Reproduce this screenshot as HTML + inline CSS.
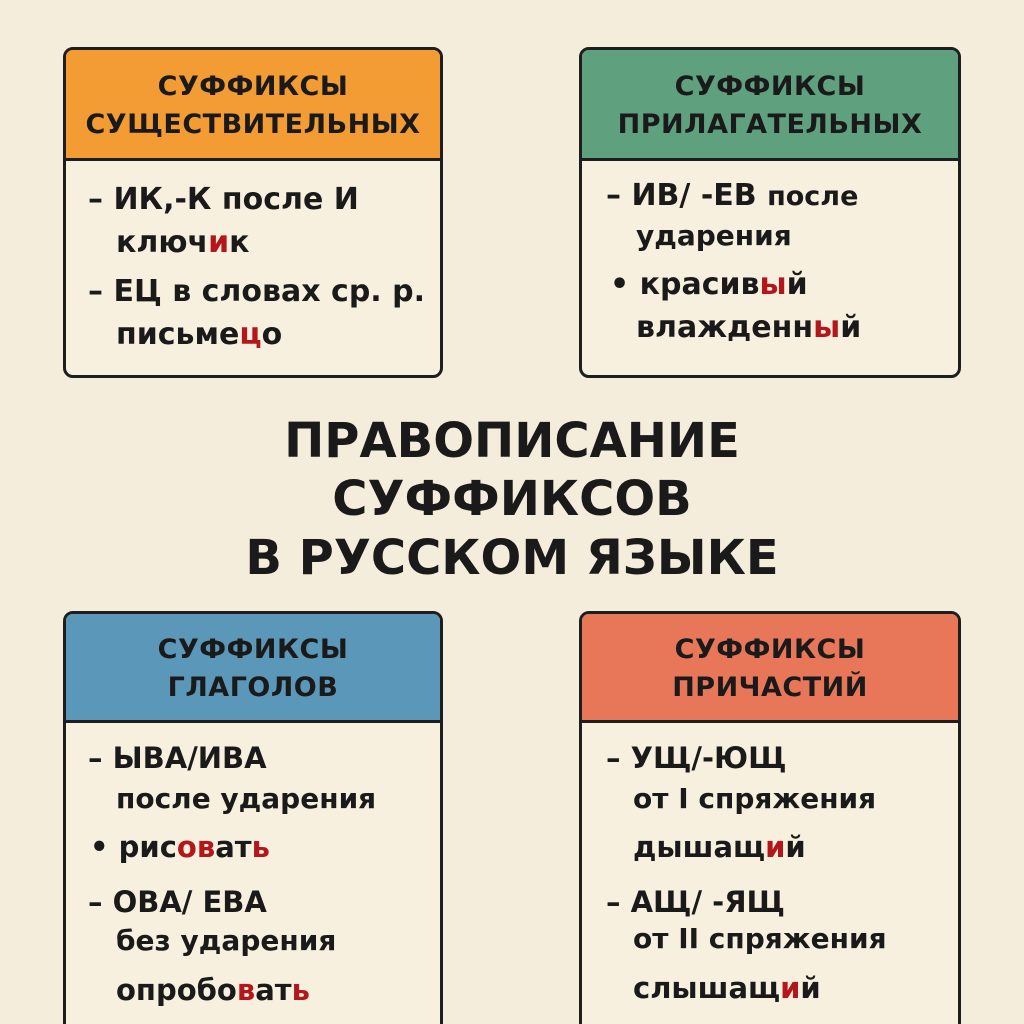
<!DOCTYPE html>
<html style="width:1024px;height:1024px;overflow:hidden"><head><meta charset="utf-8"><style>
body{margin:0;width:1024px;height:1024px;background:#f5eddb;position:relative;overflow:hidden;font-family:"DejaVu Sans","Liberation Sans",sans-serif;color:#1a1a1a}
.box{position:absolute;border:3px solid #1e1e1e;border-radius:10px;background:#f8f0de;overflow:hidden;box-sizing:border-box}
.hd{position:absolute;left:0;right:0;top:0;border-bottom:3px solid #1e1e1e;text-align:center;font-weight:bold;font-size:27px;line-height:38px;letter-spacing:0.5px;box-sizing:border-box}
.t{position:absolute;white-space:nowrap;font-weight:bold;line-height:1}
.r{color:#b3161b}
.title{position:absolute;left:0;width:1024px;text-align:center;font-weight:bold;font-size:48px;line-height:1}
</style></head><body>
<div class="box" style="left:63px;top:47px;width:380px;height:331px"><div class="hd" style="background:#f39c34;height:111px;padding-top:18px">СУФФИКСЫ<br>СУЩЕСТВИТЕЛЬНЫХ</div></div>
<div class="box" style="left:579px;top:47px;width:382px;height:331px"><div class="hd" style="background:#5fa07f;height:111px;padding-top:18px">СУФФИКСЫ<br>ПРИЛАГАТЕЛЬНЫХ</div></div>
<div class="box" style="left:63px;top:611px;width:380px;height:440px"><div class="hd" style="background:#5b97b8;height:109px;padding-top:17px">СУФФИКСЫ<br>ГЛАГОЛОВ</div></div>
<div class="box" style="left:579px;top:611px;width:382px;height:440px"><div class="hd" style="background:#e8775a;height:109px;padding-top:17px">СУФФИКСЫ<br>ПРИЧАСТИЙ</div></div>

<div class="t" style="left:88px;top:185px;font-size:30px">– ИК,-К после И</div>
<div class="t" style="left:116px;top:228px;font-size:30px">ключ<span class="r">и</span>к</div>
<div class="t" style="left:88px;top:277px;font-size:30px">– ЕЦ в словах ср. р.</div>
<div class="t" style="left:116px;top:320px;font-size:30px">письме<span class="r">ц</span>о</div>

<div class="t" style="left:606px;top:181px;font-size:30px">– ИВ/ -ЕВ <span style="font-size:27px">после</span></div>
<div class="t" style="left:636px;top:222px;font-size:28px">ударения</div>
<div class="t" style="left:610px;top:270px;font-size:30px">• красив<span class="r">ы</span>й</div>
<div class="t" style="left:636px;top:313px;font-size:30px">влажденн<span class="r">ы</span>й</div>

<div class="title" style="top:417px">ПРАВОПИСАНИЕ</div>
<div class="title" style="top:475px">СУФФИКСОВ</div>
<div class="title" style="top:534px">В РУССКОМ ЯЗЫКЕ</div>

<div class="t" style="left:88px;top:744px;font-size:29px">– ЫВА/ИВА</div>
<div class="t" style="left:116px;top:785px;font-size:28px">после ударения</div>
<div class="t" style="left:90px;top:833px;font-size:29px">• рис<span class="r">ов</span>ат<span class="r">ь</span></div>
<div class="t" style="left:88px;top:888px;font-size:29px">– ОВА/ ЕВА</div>
<div class="t" style="left:116px;top:927px;font-size:28px">без ударения</div>
<div class="t" style="left:116px;top:976px;font-size:29px">опробо<span class="r">в</span>ат<span class="r">ь</span></div>

<div class="t" style="left:606px;top:744px;font-size:29px">– УЩ/-ЮЩ</div>
<div class="t" style="left:633px;top:785px;font-size:28px">от I спряжения</div>
<div class="t" style="left:633px;top:833px;font-size:29px">дышащ<span class="r">и</span>й</div>
<div class="t" style="left:606px;top:888px;font-size:29px">– АЩ/ -ЯЩ</div>
<div class="t" style="left:633px;top:925px;font-size:28px">от II спряжения</div>
<div class="t" style="left:633px;top:974px;font-size:29px">слышащ<span class="r">и</span>й</div>
</body></html>
